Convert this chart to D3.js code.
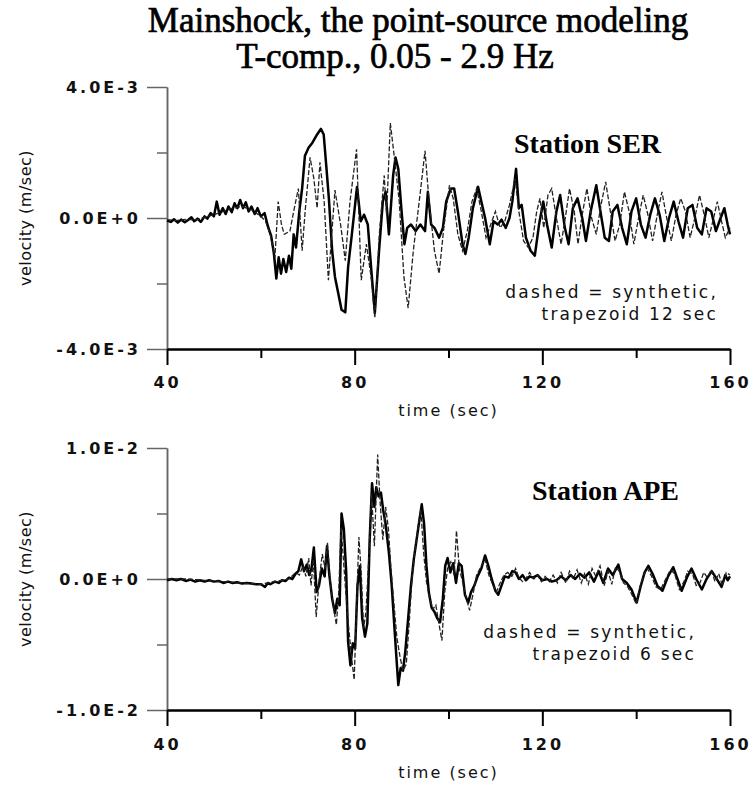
<!DOCTYPE html>
<html>
<head>
<meta charset="utf-8">
<script src="https://cdn.jsdelivr.net/npm/d3@7"></script>
<style>
    body { margin: 0; background: #fff; }
    svg { display: block; }
    .axis text { font-family: "DejaVu Sans", sans-serif; font-weight: bold; font-size: 16px; letter-spacing: 3px; fill: #111; }
    .label { font-family: "DejaVu Sans", sans-serif; font-size: 16px; fill: #111; }
    .note { font-family: "DejaVu Sans", sans-serif; font-size: 17px; fill: #111; }
    .title { font-family: "Liberation Serif", "Times New Roman", serif; font-size: 35px; fill: #000; stroke: #000; stroke-width: 0.7px; }
    .station { font-family: "Liberation Serif", "Times New Roman", serif; font-weight: bold; font-size: 28px; fill: #000; }
</style>
</head>
<body>
<svg id="chart" width="754" height="785"></svg>
<script>
const titleLines = ["Mainshock, the point-source modeling", "T-comp., 0.05 - 2.9 Hz"];
const timeTicks = [40, 80, 120, 160];
const timeMinorTicks = [60, 100, 140];

// [time (sec), velocity in 1E-3 m/sec]
const serObserved = [[40,-0.08],[40.8,-0.12],[41.5,-0.04],[42.3,-0.14],[43,-0.05],[43.8,-0.13],[44.5,-0.06],[45.2,0.02],[45.8,-0.1],[46.5,-0.02],[47.2,-0.12],[48,0.05],[48.6,-0.02],[49.3,0.15],[50,0.05],[50.6,0.5],[51.2,0.1],[51.9,0.3],[52.5,0.12],[53.1,0.35],[53.8,0.18],[54.4,0.45],[55,0.3],[55.6,0.55],[56.2,0.3],[56.8,0.48],[57.4,0.2],[58,0.35],[58.7,0.12],[59.3,0.3],[60,0.05],[60.8,0.15],[61.5,-0.25],[62.2,-0.55],[62.8,-1.1],[63.3,-1.85],[63.8,-1.2],[64.3,-1.7],[64.8,-1.25],[65.4,-1.65],[66,-1.15],[66.5,-1.55],[67,-0.5],[67.5,-0.9],[68.2,0.2],[68.8,0.9],[69.4,1.9],[70.2,2.15],[71,2.3],[72,2.55],[72.8,2.72],[73.4,2.55],[74,1.5],[74.5,0.6],[75.2,-1.0],[75.8,-1.8],[76.5,-2.3],[77.2,-2.8],[78,-2.88],[78.6,-1.5],[79.4,-0.5],[80.5,0.95],[81.3,-0.1],[82,0.1],[82.8,-0.2],[83.5,-1.5],[84.3,-2.9],[85.2,-1.0],[86,0.5],[86.6,0.8],[87.3,-0.5],[88.2,1.3],[88.7,1.85],[89.3,1.5],[90,0.2],[90.6,-0.8],[91.2,-0.3],[92,-0.2],[93,-0.4],[94,-0.2],[95,-0.4],[95.6,0.8],[96.3,-0.2],[97,-0.3],[98,-0.6],[98.8,-0.3],[99.5,0.5],[100.5,0.9],[101.2,0.9],[102,0.2],[103,-0.8],[103.6,-1.1],[104.3,-0.6],[105.2,0.3],[106.3,0.95],[107,0.5],[107.8,0.0],[108.8,-0.8],[109.6,-0.1],[110.5,-0.2],[111.3,-0.05],[112.2,-0.3],[113,0.0],[113.6,0.5],[114.4,1.5],[115,0.3],[115.6,0.4],[116.5,-0.6],[117.5,-1.0],[118.4,-1.15],[119.3,-0.2],[120.2,0.5],[121,-0.2],[122,-0.9],[123,0.2],[123.8,0.7],[124.8,-0.3],[125.6,-0.8],[126.5,0.3],[127.5,0.6],[128.5,0.0],[129.3,-0.7],[130.3,0.2],[131.5,1.0],[132.5,0.1],[133.3,-0.6],[134.2,-0.7],[135,0.2],[136,0.4],[137,-0.3],[138,-0.8],[139,0.2],[140,0.6],[141,-0.2],[142,-0.6],[143,0.1],[144,0.6],[145,0.1],[146,-0.7],[147,0.0],[148,0.5],[149,-0.1],[150,-0.6],[151,0.3],[152,0.4],[153,-0.3],[154,-0.5],[155,0.3],[156,0.2],[157,-0.4],[158,0.0],[158.8,0.3],[159.5,-0.2],[160,-0.5]];

const serSynthetic = [[40,-0.05],[42,-0.08],[44,-0.04],[46,-0.06],[48,0.02],[50,0.1],[52,0.2],[54,0.3],[56,0.35],[58,0.25],[60,0.05],[61,-0.1],[62,-0.5],[63,-1.2],[63.7,0.5],[64.4,-0.2],[65,-0.5],[66.2,-0.4],[67,0.2],[68,0.9],[68.8,-1.0],[69.5,0.3],[70.5,1.85],[71.3,1.2],[72,0.3],[72.6,1.7],[73.5,0.5],[74.4,-1.9],[75.8,0.85],[77,-0.2],[78,-1.3],[79,0.5],[80.4,2.1],[81.4,-1.9],[82.5,-0.8],[83.5,-1.8],[84.3,-3.05],[85.3,-0.4],[86.3,1.3],[86.8,0.1],[87.6,2.9],[88.5,1.8],[89.5,0.5],[90.5,-1.8],[91.4,-2.75],[92.5,-1.0],[94,0.8],[95,2.05],[95.8,0.6],[97,-1.0],[98,-1.7],[99,-0.3],[100.2,1.0],[101,0.6],[102,-0.5],[103,-1.0],[104,-0.4],[105,0.5],[106,0.9],[107,0.2],[108,-0.6],[109,-0.2],[110,0.2],[111,-0.3],[112,-0.1],[113,0.4],[114.2,1.2],[115,0.2],[116,-0.7],[117,-0.9],[118,-0.6],[118.8,0.2],[119.5,0.6],[120.3,-0.3],[121.2,0.7],[122,0.9],[123,0.0],[124,-0.8],[125,0.1],[125.8,0.9],[126.8,0.2],[127.6,-0.8],[128.5,0.1],[129.5,0.9],[130.5,0.0],[131.5,-0.5],[132.5,0.4],[133.5,1.1],[134.5,0.2],[135.5,-0.7],[136.5,-0.2],[137.5,0.8],[138.5,0.2],[139.5,-0.8],[140.5,0.0],[141.5,0.7],[142.5,0.1],[143.5,-0.7],[144.5,0.1],[145.5,0.8],[146.5,0.0],[147.5,-0.7],[148.5,0.1],[149.5,0.6],[150.5,0.2],[151.5,-0.6],[152.5,0.0],[153.5,0.7],[154.5,0.1],[155.5,-0.6],[156.5,0.0],[157.3,0.5],[158.2,-0.1],[159,-0.6],[160,-0.3]];

const apeObserved = [[40,-0.1],[41,0.0],[42,-0.1],[43,0.0],[44,-0.15],[45,-0.05],[46,-0.2],[47,-0.1],[48,-0.2],[49,-0.1],[50,-0.2],[51,-0.15],[52,-0.3],[53,-0.2],[54,-0.3],[55,-0.25],[56,-0.35],[57,-0.3],[58,-0.35],[59,-0.4],[60,-0.4],[60.9,-0.6],[61.5,-0.3],[62,-0.4],[63,-0.2],[63.8,-0.3],[64.5,-0.1],[65.3,-0.15],[66,0.1],[66.7,0.0],[67.4,0.4],[68,0.6],[68.6,1.5],[69.2,0.6],[69.8,1.1],[70.3,0.3],[70.8,0.8],[71.3,2.4],[71.9,-1.0],[72.4,-0.5],[73,0.8],[73.6,0.2],[74.1,2.5],[74.6,0.3],[75.2,-1.5],[75.8,-2.6],[76.3,-1.5],[76.8,-2.0],[77.2,5.0],[77.7,3.8],[78.2,0.5],[78.6,-4.8],[79.1,-6.6],[79.6,-4.9],[80.1,-5.3],[80.6,-0.5],[81.1,1.0],[81.6,-3.0],[82.2,-4.4],[82.7,-3.4],[83.2,3.0],[83.7,7.3],[84.2,5.5],[84.6,7.0],[85.1,6.3],[85.6,6.6],[86.1,5.2],[86.6,4.2],[87.3,2.0],[87.9,-0.5],[88.4,-3.3],[88.9,-6.0],[89.3,-8.1],[89.8,-6.8],[90.3,-7.0],[90.8,-5.5],[91.4,-3.0],[92,-0.5],[92.6,1.5],[93.2,3.0],[93.8,4.5],[94.3,5.7],[94.8,4.2],[95.3,1.0],[95.8,-1.0],[96.4,-2.2],[97,-2.5],[97.6,-3.0],[98.2,-3.3],[98.8,-1.5],[99.3,1.0],[99.8,1.6],[100.4,0.5],[101,1.2],[101.6,-0.3],[102.2,1.2],[102.8,1.0],[103.5,-1.2],[104.2,-1.8],[104.8,-1.0],[105.5,-0.5],[106.2,0.2],[107,0.8],[107.8,1.8],[108.5,1.0],[109.2,0.0],[110,-0.9],[110.6,-1.2],[111.3,-0.5],[112,0.2],[112.8,0.1],[113.6,0.6],[114.3,0.5],[115,0.0],[115.8,0.3],[116.5,-0.1],[117.3,0.2],[118,0.1],[119,0.3],[120,-0.1],[121,0.0],[122,-0.2],[123,-0.1],[124,0.2],[125,-0.1],[126,0.3],[127,0.0],[128,0.4],[129,0.1],[130,0.5],[131,-0.2],[132,0.6],[133,-0.3],[134,0.8],[135,0.3],[136.2,1.1],[137,0.0],[138,-0.3],[139,-0.8],[140.1,-1.8],[141,-0.5],[141.8,0.5],[142.6,1.0],[143.5,0.4],[144.5,-0.5],[145.6,-0.9],[146.8,0.2],[147.9,0.9],[148.8,0.0],[149.7,-0.9],[150.8,0.1],[151.8,0.8],[152.8,0.0],[154,-0.8],[155,0.0],[156.1,0.6],[157,0.1],[158.2,-0.6],[159,0.3],[159.5,-0.1],[160,0.2]];

const apeSynthetic = [[40,0.0],[44,0.0],[48,-0.1],[52,-0.2],[56,-0.3],[60,-0.4],[63,-0.2],[66,0.0],[67.4,0.5],[68.2,0.3],[69,1.0],[69.6,0.2],[70.2,1.6],[70.7,-0.5],[71.2,1.5],[71.8,-2.9],[72.4,-0.2],[73.1,1.9],[73.7,0.8],[74.2,2.8],[74.8,-0.3],[75.5,-2.2],[76.1,-3.5],[76.6,-1.0],[77.1,4.0],[77.6,1.5],[78.1,-1.0],[78.8,-4.0],[79.4,-6.2],[79.9,-7.7],[80.4,-2.0],[80.9,3.2],[81.4,0.5],[81.9,-3.8],[82.4,-2.5],[83,1.5],[83.6,6.5],[84.2,2.5],[84.9,9.5],[85.4,6.0],[86,3.0],[86.6,5.5],[87.2,3.8],[87.8,0.5],[88.4,-2.0],[89,-4.5],[89.7,-6.0],[90.3,-7.0],[91,-6.5],[91.6,-3.5],[92.2,0.0],[92.8,2.0],[93.6,4.2],[94.1,5.3],[94.7,2.0],[95.3,-0.2],[96,-1.5],[96.7,-2.3],[97.3,-2.0],[98,-3.5],[98.6,-4.7],[99.2,-1.0],[99.8,0.8],[100.5,1.3],[101.2,0.3],[101.7,3.7],[102.3,0.8],[103,-0.2],[103.8,-1.5],[104.5,-2.4],[105.2,-1.2],[106,0.3],[107,1.0],[107.8,1.5],[108.6,0.3],[109.4,-0.4],[110.2,-1.0],[111,-0.3],[111.8,0.3],[112.6,0.5],[113.5,0.2],[114.3,0.8],[115,0.1],[115.8,-0.2],[116.6,0.1],[117.3,0.5],[118.2,0.0],[119,0.3],[119.8,-0.2],[120.6,0.2],[121.5,-0.2],[122.3,0.3],[123.2,-0.3],[124,0.5],[125,-0.3],[125.8,0.6],[126.6,0.0],[127.4,0.7],[128.3,-0.3],[129,0.4],[129.8,-0.4],[130.6,0.8],[131.4,0.2],[132.3,1.0],[133.2,-0.5],[134,0.6],[134.8,-0.4],[135.6,0.9],[136.4,0.6],[137.3,-0.3],[138.2,-0.6],[139.1,-1.2],[140,-1.9],[140.8,-0.6],[141.6,0.3],[142.4,0.8],[143.3,0.2],[144.2,-0.6],[145.2,-0.8],[146.3,0.0],[147.3,0.7],[148.2,0.4],[149.2,-0.8],[150.2,-0.2],[151,0.6],[152,0.4],[152.8,-0.5],[153.6,-0.3],[154.4,0.5],[155.2,0.1],[156,0.7],[156.8,-0.2],[157.6,0.4],[158.4,-0.5],[159.2,0.5],[160,0.3]];

const svg = d3.select("#chart");

// 1E-3 m/sec -> "4.0E-3" style labels
const sciFormat = d => {
    const v = d * 1e-3;
    if (v === 0) return "0.0E+0";
    const e = Math.floor(Math.log10(Math.abs(v)) + 1e-9);
    const m = v / Math.pow(10, e);
    return `${m.toFixed(1)}E${e < 0 ? "-" : "+"}${Math.abs(e)}`;
};

const drawPanel = (cfg) => {
    const margin = { top: cfg.top, left: 167 };
    const width = 563;
    const height = 262;

    const g = svg.append("g")
        .attr("transform", `translate(${margin.left},${margin.top})`);

    const xScale = d3.scaleLinear().domain([40, 160]).range([0, width]);
    const yScale = d3.scaleLinear().domain([-cfg.yMax, cfg.yMax]).range([height, 0]);

    // y axis
    g.append("g")
        .attr("class", "axis y-minor")
        .call(d3.axisLeft(yScale).tickValues([-cfg.yMax / 2, cfg.yMax / 2]).tickSize(10).tickSizeOuter(0).tickFormat(""));
    g.append("g")
        .attr("class", "axis y-axis")
        .call(d3.axisLeft(yScale).tickValues([-cfg.yMax, 0, cfg.yMax]).tickSize(20).tickSizeOuter(0).tickPadding(6).tickFormat(sciFormat));
    g.selectAll(".y-minor path, .y-minor line, .y-axis path, .y-axis line")
        .attr("stroke", "#666")
        .attr("stroke-width", 1.5);

    // x axis
    g.append("g")
        .attr("class", "axis x-minor")
        .attr("transform", `translate(0,${height})`)
        .call(d3.axisBottom(xScale).tickValues(timeMinorTicks).tickSize(9).tickSizeOuter(0).tickFormat(""));
    g.append("g")
        .attr("class", "axis x-axis")
        .attr("transform", `translate(0,${height})`)
        .call(d3.axisBottom(xScale).tickValues(timeTicks).tickSize(16).tickSizeOuter(0).tickPadding(cfg.xPad));
    g.selectAll(".x-minor path, .x-minor line, .x-axis path, .x-axis line")
        .attr("stroke", "#000")
        .attr("stroke-width", 2);
    g.selectAll(".x-axis text").attr("letter-spacing", 2);

    const line = d3.line()
        .x(d => xScale(d[0]))
        .y(d => yScale(d[1]));

    g.append("path")
        .datum(cfg.observed)
        .attr("fill", "none")
        .attr("stroke", "#000")
        .attr("stroke-width", 2.5)
        .attr("stroke-linejoin", "round")
        .attr("d", line);

    g.append("path")
        .datum(cfg.synthetic)
        .attr("fill", "none")
        .attr("stroke", "#222")
        .attr("stroke-width", 1.3)
        .attr("stroke-dasharray", "5,2")
        .attr("d", line);

    g.append("text")
        .attr("class", "label")
        .attr("x", width / 2)
        .attr("y", height + cfg.xLabelDy)
        .attr("text-anchor", "middle")
        .attr("letter-spacing", 2)
        .text("time (sec)");

    g.append("text")
        .attr("class", "label")
        .attr("transform", "rotate(-90)")
        .attr("x", -height / 2)
        .attr("y", -136)
        .attr("text-anchor", "middle")
        .attr("letter-spacing", 0.5)
        .text("velocity (m/sec)");

    g.append("text")
        .attr("class", "station")
        .attr("x", cfg.stationX)
        .attr("y", cfg.stationY)
        .text(cfg.station);

    cfg.note.forEach((t, i) => {
        g.append("text")
            .attr("class", "note")
            .attr("x", cfg.noteX)
            .attr("y", cfg.noteY + i * 22)
            .attr("text-anchor", "end")
            .attr("letter-spacing", 2.2)
            .text(t);
    });
};

svg.append("text")
    .attr("class", "title")
    .attr("x", 418)
    .attr("y", 32)
    .attr("text-anchor", "middle")
    .text(titleLines[0]);
svg.append("text")
    .attr("class", "title")
    .attr("x", 395)
    .attr("y", 68)
    .attr("text-anchor", "middle")
    .text(titleLines[1]);

drawPanel({
    top: 87, yMax: 4, observed: serObserved, synthetic: serSynthetic,
    station: "Station SER", stationX: 347, stationY: 66,
    note: ["dashed = synthetic,", "trapezoid 12 sec"], noteX: 551, noteY: 211,
    xPad: 12, xLabelDy: 67
});
drawPanel({
    top: 448, yMax: 10, observed: apeObserved, synthetic: apeSynthetic,
    station: "Station APE", stationX: 365, stationY: 52,
    note: ["dashed = synthetic,", "trapezoid 6 sec"], noteX: 529, noteY: 190,
    xPad: 13, xLabelDy: 68
});
</script>
</body>
</html>
